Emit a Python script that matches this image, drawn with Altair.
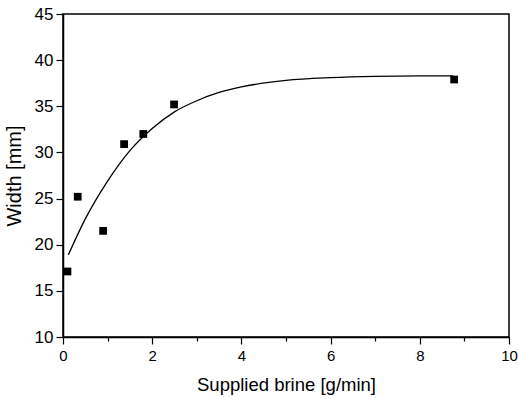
import altair as alt
import pandas as pd

# measured points
brine = [0.1, 0.33, 0.9, 1.37, 1.8, 2.49, 8.77]
width = [17.1, 25.2, 21.5, 30.9, 32.0, 35.2, 37.9]

# fitted curve
curve_x = [0.12, 0.5, 1.0, 1.5, 2.0, 2.5, 3.0, 3.5, 4.0, 5.0, 6.0, 7.0, 8.0, 8.75]
curve_y = [18.9, 22.8, 26.9, 30.2, 32.6, 34.4, 35.6, 36.5, 37.1, 37.8, 38.1, 38.25, 38.3, 38.3]

x_ticks = [0, 1, 2, 3, 4, 5, 6, 7, 8, 9, 10]
y_ticks = [10, 12.5, 15, 17.5, 20, 22.5, 25, 27.5, 30, 32.5, 35, 37.5, 40, 42.5, 45]

pts = pd.DataFrame({"x": brine, "y": width})
crv = pd.DataFrame({"x": curve_x, "y": curve_y})

FONT = "Liberation Sans"
xs = alt.Scale(domain=[0, 10], nice=False, zero=False)
ys = alt.Scale(domain=[10, 45], nice=False, zero=False)

x_axis = alt.Axis(values=x_ticks, title="Supplied brine [g/min]", grid=False,
                  tickSize={"condition": {"test": "datum.value % 2 != 0", "value": 4}, "value": 7},
                  labelExpr="datum.value % 2 == 0 ? datum.label : ''",
                  tickColor="black", domainColor="black", domainWidth=1.5, tickWidth=1.2,
                  labelFontSize=15, titleFontSize=18.5, labelFont=FONT, titleFont=FONT,
                  labelColor="black", titleColor="black", titleFontWeight="normal",
                  labelPadding=4, titlePadding=12, format="d", labelFlush=False)
y_axis = alt.Axis(values=y_ticks, title="Width [mm]", grid=False,
                  tickSize={"condition": {"test": "datum.value % 5 != 0", "value": 4}, "value": 7},
                  labelExpr="datum.value % 5 == 0 ? datum.label : ''",
                  tickColor="black", domainColor="black", domainWidth=1.5, tickWidth=1.2,
                  labelFontSize=17, titleFontSize=20, labelFont=FONT, titleFont=FONT,
                  labelColor="black", titleColor="black", titleFontWeight="normal",
                  labelPadding=3, titlePadding=10, format="d", labelFlush=False)

line = alt.Chart(crv).mark_line(color="black", strokeWidth=1.3, interpolate="monotone").encode(
    x=alt.X("x:Q", scale=xs, axis=x_axis),
    y=alt.Y("y:Q", scale=ys, axis=y_axis),
)

points = alt.Chart(pts).mark_square(color="black", size=60, opacity=1).encode(
    x=alt.X("x:Q", scale=xs),
    y=alt.Y("y:Q", scale=ys),
)

chart = alt.layer(line, points).properties(
    width=446, height=323,
    autosize=alt.AutoSizeParams(type="none"),
    padding={"left": 63, "top": 14, "right": 10, "bottom": 58},
    background="white",
).configure_view(stroke="black", strokeWidth=1.5)

chart.save("out.html", embed_options={"renderer": "svg", "actions": False})
